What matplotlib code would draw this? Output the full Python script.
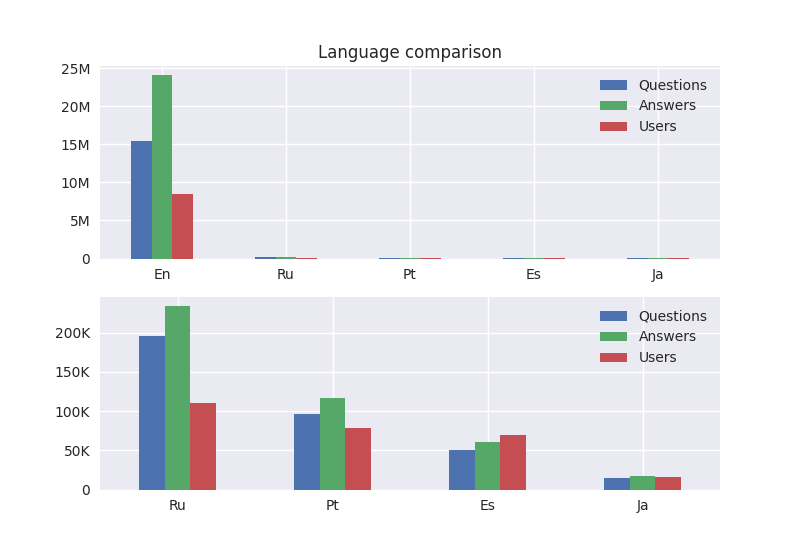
import numpy as np
import pandas as pd

import matplotlib
matplotlib.use("Agg")
import matplotlib.pyplot as plt
from matplotlib.ticker import FuncFormatter

plt.style.use("seaborn-v0_8")
plt.rcParams["font.family"] = ["DejaVu Sans"]

# languages
langs = ["En", "Ru", "Pt", "Es", "Ja"]

# counts
questions = [15450000, 196000, 97000, 50000, 15000]
answers = [24100000, 234000, 117000, 60000, 17500]
users = [8500000, 110000, 79000, 70000, 16000]

df = pd.DataFrame(
    {"Questions": questions, "Answers": answers, "Users": users}, index=langs
)


def fmt_m(x, pos):
    return "%dM" % (x / 1e6) if x else "0"


def fmt_k(x, pos):
    return "%dK" % (x / 1e3) if x else "0"


fig, (ax1, ax2) = plt.subplots(2, 1, figsize=(8, 5.5), dpi=100)

df.plot.bar(ax=ax1, rot=0, title="Language comparison")
ax1.yaxis.set_major_formatter(FuncFormatter(fmt_m))
ax1.legend(loc="upper right")

df.drop("En").plot.bar(ax=ax2, rot=0)
ax2.yaxis.set_major_formatter(FuncFormatter(fmt_k))
ax2.legend(loc="upper right")

plt.savefig("out.png")
